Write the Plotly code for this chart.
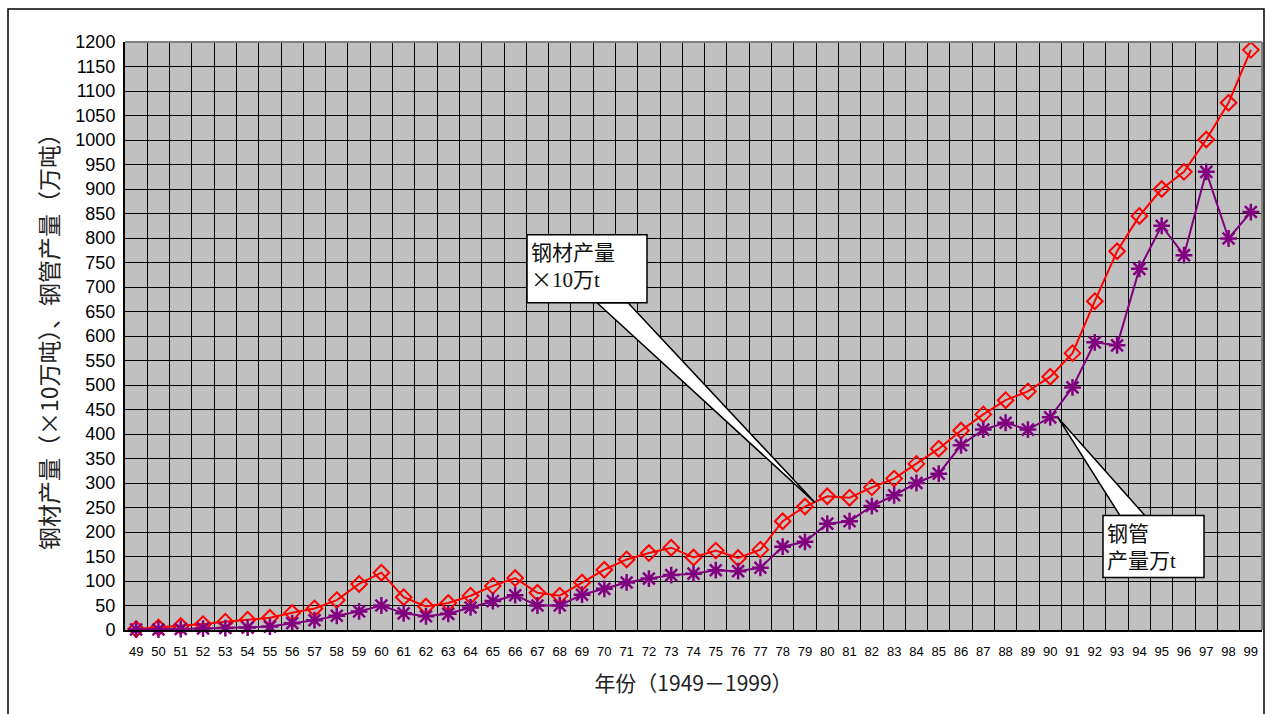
import plotly.graph_objects as go

# ---------------- data ----------------
years = ['49', '50', '51', '52', '53', '54', '55', '56', '57', '58', '59',
         '60', '61', '62', '63', '64', '65', '66', '67', '68', '69',
         '70', '71', '72', '73', '74', '75', '76', '77', '78', '79',
         '80', '81', '82', '83', '84', '85', '86', '87', '88', '89',
         '90', '91', '92', '93', '94', '95', '96', '97', '98', '99']

steel_10k = [2, 5, 8, 12, 17, 21, 25, 35, 44, 61, 94,
             117, 67, 48, 55, 70, 90, 106, 76, 70, 97,
             123, 144, 157, 168, 148, 162, 147, 164, 222, 252,
             273, 270, 291, 309, 339, 370, 407, 440, 469, 487,
             517, 565, 671, 773, 845, 900, 935, 1001, 1076, 1184]

pipe_wt = [1, 1, 2, 3, 4, 5, 7, 14, 20, 29, 38,
           50, 34, 28, 33, 46, 59, 71, 50, 50, 72,
           84, 97, 105, 112, 115, 122, 120, 127, 170, 180,
           217, 222, 253, 275, 300, 319, 377, 409, 423, 409,
           434, 495, 587, 581, 737, 825, 765, 935, 799, 853]

y_title = '钢材产量（×10万吨）、钢管产量（万吨）'
x_title = '年份（1949－1999）'
callout_steel = '钢材产量<br><span style="font-family:Noto Sans CJK SC">×</span>10万t'
callout_pipe = '钢管<br>产量万t'

# ---------------- layout helpers (pixel -> paper) ----------------
W, H = 1272, 714
L, R, T, B = 125, 1262, 42, 630.5


def px(x):
    return (x - L) / (R - L)


def py(y):
    return (B - y) / (B - T)


fig = go.Figure()

fig.add_trace(go.Scatter(
    x=years, y=steel_10k, mode='lines+markers', name='钢材产量',
    line=dict(color='#FF0000', width=2),
    marker=dict(symbol='diamond-open', size=12, color='#FF0000',
                line=dict(color='#FF0000', width=2)),
    cliponaxis=False, showlegend=False))

fig.add_trace(go.Scatter(
    x=years, y=pipe_wt, mode='lines+markers', name='钢管产量',
    line=dict(color='#800080', width=2),
    marker=dict(symbol='asterisk-open', size=14, color='#800080',
                line=dict(color='#800080', width=2.5)),
    cliponaxis=False, showlegend=False))

serif = 'Liberation Serif, Noto Sans CJK SC, serif'
cjk = 'Noto Sans CJK SC, Liberation Sans, sans-serif'

shapes = []
# outer chart frame
shapes.append(dict(type='rect', xref='paper', yref='paper',
                   x0=px(8), x1=px(1264), y0=py(720), y1=py(9),
                   line=dict(color='black', width=1.5), fillcolor='rgba(0,0,0,0)'))
# plot area top/right gray edges
shapes.append(dict(type='line', xref='paper', yref='paper', x0=0, x1=1, y0=1, y1=1,
                   line=dict(color='#808080', width=2)))
shapes.append(dict(type='line', xref='paper', yref='paper', x0=1, x1=1, y0=0, y1=1,
                   line=dict(color='#808080', width=2)))


def wedge(b1, b2, tip):
    return dict(type='path', xref='paper', yref='paper',
                path='M {},{} L {},{} L {},{} Z'.format(px(b1[0]), py(b1[1]),
                                                        px(tip[0]), py(tip[1]),
                                                        px(b2[0]), py(b2[1])),
                fillcolor='white', line=dict(color='black', width=1.5))


def box(x0, y0, x1, y1):
    return dict(type='rect', xref='paper', yref='paper',
                x0=px(x0), x1=px(x1), y0=py(y1), y1=py(y0),
                fillcolor='white', line=dict(color='black', width=1.5))


shapes.append(wedge((597, 303), (628, 303), (815, 503)))
shapes.append(box(527, 235, 647, 303))
shapes.append(wedge((1120, 516), (1145, 516), (1058, 418)))
shapes.append(box(1103, 516, 1204, 578))

annotations = [
    dict(xref='paper', yref='paper', x=px(529), y=py(267.5), xanchor='left', yanchor='middle',
         text=callout_steel, showarrow=False, align='left',
         font=dict(family=serif, size=21, color='#111111')),
    dict(xref='paper', yref='paper', x=px(1105), y=py(548), xanchor='left', yanchor='middle',
         text=callout_pipe, showarrow=False, align='left',
         font=dict(family=serif, size=21, color='#111111')),
]

fig.update_layout(
    width=W, height=H,
    margin=dict(l=L, r=W - R, t=T, b=H - B, autoexpand=False),
    paper_bgcolor='white', plot_bgcolor='#C0C0C0',
    shapes=shapes, annotations=annotations,
    xaxis=dict(type='category', range=[-0.5, 50.5], tickson='boundaries',
               showgrid=True, gridcolor='black', gridwidth=1,
               showline=True, linecolor='black', linewidth=2, ticks='',
               tickangle=0, ticklabelstandoff=8,
               tickfont=dict(family='Liberation Sans, Arial', size=13, color='black'),
               title=dict(text=x_title, standoff=19,
                          font=dict(family=cjk, size=21, color='#222222')),
               zeroline=False, automargin=False),
    yaxis=dict(range=[0, 1200], dtick=50, tick0=0,
               showgrid=True, gridcolor='black', gridwidth=1,
               showline=True, linecolor='black', linewidth=2, ticks='',
               ticklabelstandoff=4,
               tickfont=dict(family='Liberation Sans, Arial', size=18, color='black'),
               title=dict(text=y_title, standoff=10,
                          font=dict(family=cjk, size=23, color='#222222')),
               zeroline=False, automargin=False),
)

fig.write_html('out.html', config={'displayModeBar': False},
               post_script="document.body.style.margin='0';document.body.style.overflow='hidden';")
